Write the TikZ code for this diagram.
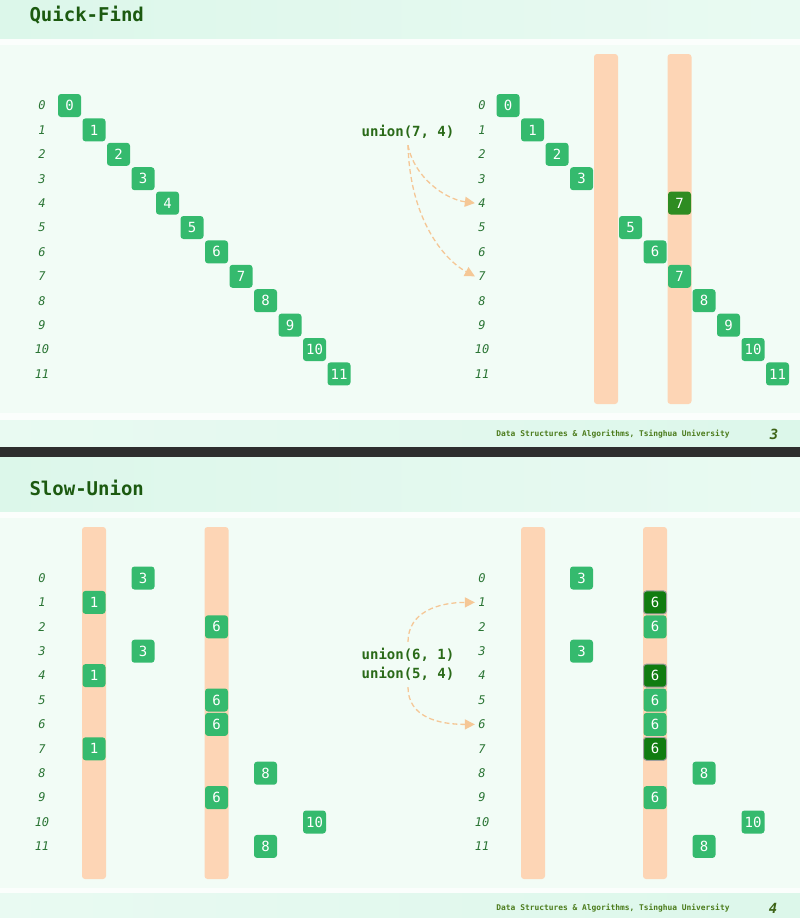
\documentclass[tikz,border=0pt]{standalone}
\usepackage{fontspec}
\setmonofont{DejaVu Sans Mono}
\usetikzlibrary{arrows.meta}
\definecolor{bandgreen}{HTML}{DCF7EA}
\definecolor{bandlight}{HTML}{E9FAF2}
\definecolor{pagegreen}{HTML}{F2FCF6}
\definecolor{cellgreen}{HTML}{35BA6E}
\definecolor{selgreen}{HTML}{107C10}
\definecolor{movegreen}{HTML}{2E8C22}
\definecolor{peach}{HTML}{FDD5B5}
\definecolor{arrowpeach}{HTML}{F5C796}
\definecolor{titlegreen}{HTML}{1C5A10}
\definecolor{lblgreen}{HTML}{2B7535}
\definecolor{opgreen}{HTML}{2A6A18}
\definecolor{footgreen}{HTML}{4C7C1C}
\tikzset{
  cell/.style={fill=cellgreen, rounded corners=3pt, minimum size=23pt, inner sep=0pt,
    text=white, font=\ttfamily\fontsize{14}{14}\selectfont},
  cellsel/.style={cell, fill=selgreen, draw=gray!75, line width=1pt},
  cellmove/.style={cell, fill=movegreen},
  rowlbl/.style={text=lblgreen, font=\ttfamily\itshape\fontsize{12}{12}\selectfont},
  optext/.style={text=opgreen, font=\ttfamily\bfseries\fontsize{14}{19}\selectfont},
  titletext/.style={text=titlegreen, anchor=west, font=\ttfamily\bfseries\fontsize{19}{20}\selectfont},
  foottext/.style={text=footgreen, font=\ttfamily\bfseries\fontsize{7.9}{8}\selectfont},
  pagenum/.style={text=footgreen!80!black, font=\ttfamily\bfseries\itshape\fontsize{14}{14}\selectfont},
  bar/.style={fill=peach, rounded corners=3pt},
  arr/.style={draw=arrowpeach, dash pattern=on 5pt off 3pt, line width=1.3pt,
    -{Triangle[length=10pt,width=10pt]}},
}
\begin{document}
\begin{tikzpicture}[x=1pt,y=-1pt]
  \useasboundingbox (0,0) rectangle (800,918);
  % slide backgrounds
  \fill[pagegreen] (0,0) rectangle (800,918);
  \shade[left color=bandgreen, right color=bandlight] (0,0) rectangle (800,39);
  \fill[white!70!pagegreen] (0,39) rectangle (800,45);
  \fill[white!70!pagegreen] (0,413) rectangle (800,420);
  \shade[left color=bandlight, right color=bandgreen] (0,420) rectangle (800,447);
  \fill[black!82] (0,447) rectangle (800,457);
  \shade[left color=bandgreen, right color=bandlight] (0,457) rectangle (800,512);
  \fill[white!70!pagegreen] (0,512) rectangle (800,518);
  \fill[white!70!pagegreen] (0,888) rectangle (800,893);
  \shade[left color=bandlight, right color=bandgreen] (0,893) rectangle (800,918);
  \node[titletext] (qtitle) at (26,15) {Quick-Find};
  \node[titletext] (stitle) at (26,488) {Slow-Union};
  \node[foottext] (qfoot) at (613,434) {Data Structures \& Algorithms, Tsinghua University};
  \node[pagenum] (qpage) at (774,434) {3};
  \node[foottext] (sfoot) at (613,908) {Data Structures \& Algorithms, Tsinghua University};
  \node[pagenum] (spage) at (773,908) {4};

  % Quick-Find, before
  \foreach \i in {0,...,11} {
    \node[rowlbl] (qa\i) at (42,{105.5+24.4*\i}) {\i};
    \node[cell] (qac\i) at ({69.5+24.5*\i},{105.5+24.4*\i}) {\i};
  }
  % Quick-Find, after
  \fill[bar] (594,54) rectangle (618,404);
  \fill[bar] (667.5,54) rectangle (691.5,404);
  \foreach \i in {0,...,11}
    \node[rowlbl] (qb\i) at (482,{105.5+24.4*\i}) {\i};
  \foreach \i in {0,1,2,3,5,6,7,8,9,10,11}
    \node[cell] (qbc\i) at ({508+24.5*\i},{105.5+24.4*\i}) {\i};
  \node[cellmove] (qbm) at ({508+24.5*7},{105.5+24.4*4}) {7};
  \node[optext] (qop) at (408,132) {union(7, 4)};
  \draw[arr] ([yshift=-3pt]qop.south) .. controls +(6,32) and +(-30,-4) .. (qb4.west);
  \draw[arr] ([yshift=-3pt]qop.south) .. controls +(2,75) and +(-30,-16) .. (qb7.west);

  % Slow-Union, before
  \fill[bar] (82,527) rectangle (106,879);
  \fill[bar] (204.5,527) rectangle (228.5,879);
  \foreach \c/\r in {3/0,1/1,6/2,3/3,1/4,6/5,6/6,1/7,8/8,6/9,10/10,8/11} {
    \node[rowlbl] (sa\r) at (42,{578+24.4*\r}) {\r};
    \node[cell] (sac\r) at ({69.5+24.5*\c},{578+24.4*\r}) {\c};
  }
  % Slow-Union, after
  \fill[bar] (521,527) rectangle (545,879);
  \fill[bar] (643,527) rectangle (667,879);
  \foreach \c/\r/\s in {3/0/cell,6/1/cellsel,6/2/cell,3/3/cell,6/4/cellsel,6/5/cell,
      6/6/cell,6/7/cellsel,8/8/cell,6/9/cell,10/10/cell,8/11/cell} {
    \node[rowlbl] (sb\r) at (482,{578+24.4*\r}) {\r};
    \node[\s] (sbc\r) at ({508+24.5*\c},{578+24.4*\r}) {\c};
  }
  \node[optext, align=center] (sop) at (408,664.5) {union(6, 1)\\union(5, 4)};
  \draw[arr] ([yshift=3pt]sop.north) .. controls +(0,-30) and +(-36,0) .. (sb1.west);
  \draw[arr] ([yshift=-3pt]sop.south) .. controls +(0,30) and +(-36,0) .. (sb6.west);
\end{tikzpicture}
\end{document}
